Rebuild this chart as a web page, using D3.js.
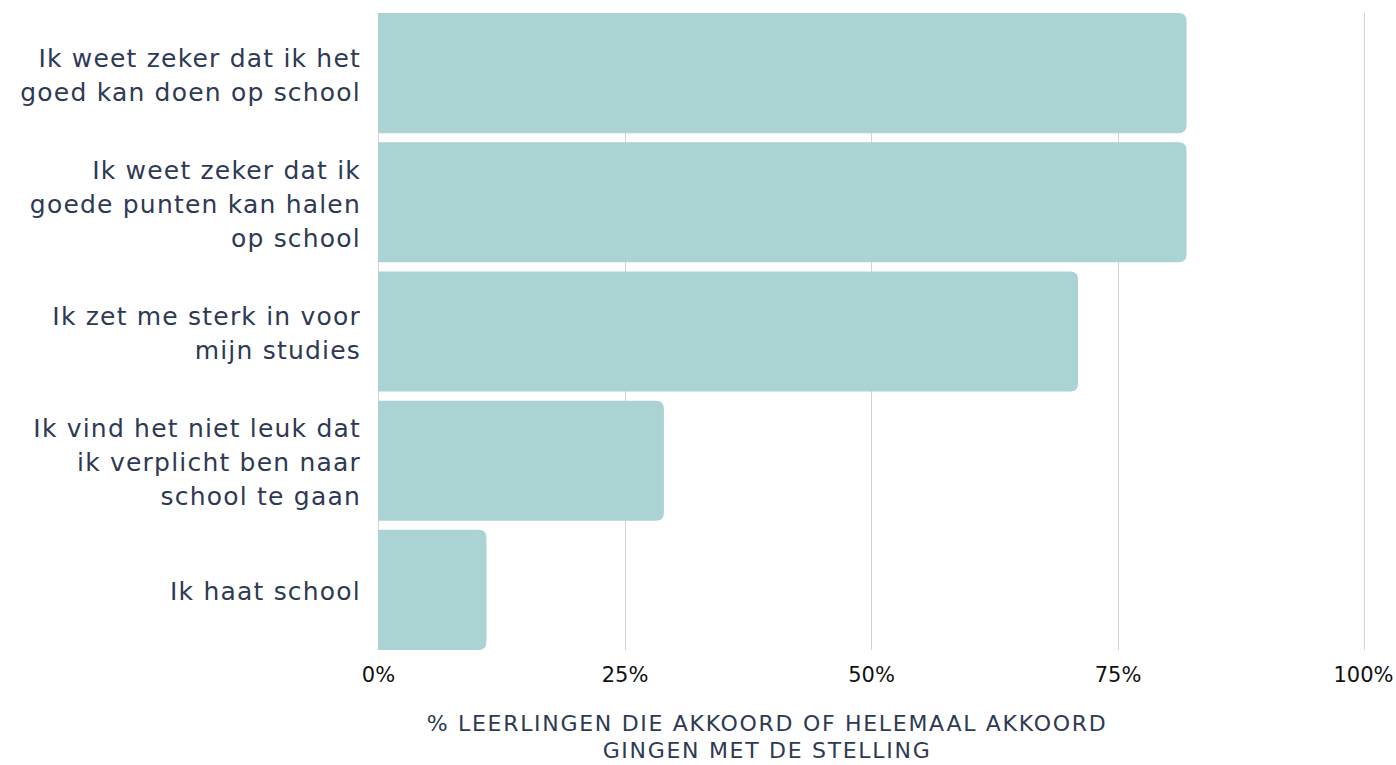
<!DOCTYPE html>
<html>
<head>
<meta charset="utf-8">
<script src="https://cdn.jsdelivr.net/npm/d3@7"></script>
<style>
  html, body { margin: 0; background: #fff; overflow: hidden; }
  svg { display: block; }
</style>
</head>
<body>
<svg class="chart"></svg>
<script>
// statements (one label per bar, lines split as in the original)
const statements = [
  ["Ik weet zeker dat ik het", "goed kan doen op school"],
  ["Ik weet zeker dat ik", "goede punten kan halen", "op school"],
  ["Ik zet me sterk in voor", "mijn studies"],
  ["Ik vind het niet leuk dat", "ik verplicht ben naar", "school te gaan"],
  ["Ik haat school"]
];
const agreePct = [82, 82, 71, 29, 11];
const xTicks = [0, 25, 50, 75, 100];
const axisTitle = ["% LEERLINGEN DIE AKKOORD OF HELEMAAL AKKOORD", "GINGEN MET DE STELLING"];

const width = 1396;
const height = 765;
const margin = { top: 13, right: 32, bottom: 115, left: 378 };
const innerWidth = width - margin.left - margin.right;
const innerHeight = height - margin.top - margin.bottom;
const font = "DejaVu Sans, sans-serif";
const textColor = "#2e3a54";

const data = statements.map((lines, i) => ({ id: i, lines, value: agreePct[i] }));

const svg = d3.select(".chart").attr("width", width).attr("height", height);
const inner = svg.append("g").attr("transform", `translate(${margin.left}, ${margin.top})`);

const xScale = d3.scaleLinear().domain([0, 100]).range([0, innerWidth]);
const yScale = d3.scaleBand().domain(data.map(d => d.id)).range([0, innerHeight]).paddingInner(0.07).paddingOuter(0);

// gridlines
inner.selectAll(".grid").data(xTicks)
  .join("line").attr("class", "grid")
  .attr("x1", d => Math.round(xScale(d)) + 0.5)
  .attr("x2", d => Math.round(xScale(d)) + 0.5)
  .attr("y1", 0)
  .attr("y2", innerHeight)
  .attr("stroke", "#d4d4d4")
  .attr("stroke-width", 1);

// bars, rounded on the right end only
const r = 8;
inner.selectAll(".bar").data(data)
  .join("path").attr("class", "bar")
  .attr("d", d => {
    const x0 = 0, x1 = xScale(d.value);
    const y0 = yScale(d.id), y1 = y0 + yScale.bandwidth();
    return `M${x0},${y0}H${x1 - r}Q${x1},${y0} ${x1},${y0 + r}V${y1 - r}Q${x1},${y1} ${x1 - r},${y1}H${x0}Z`;
  })
  .attr("fill", "#acd3d3");

// category labels, one text per line
// (letter-spacing widens the fallback font toward the original)
const lineH = 34;
const labelLines = data.flatMap(d => d.lines.map((line, k) => ({
  text: line,
  y: yScale(d.id) + yScale.bandwidth() / 2 + (k - (d.lines.length - 1) / 2) * lineH
})));
inner.selectAll(".label").data(labelLines)
  .join("text").attr("class", "label")
  .attr("text-anchor", "end")
  .attr("x", -17)
  .attr("y", d => d.y)
  .attr("dy", "0.42em")
  .style("font-family", font)
  .style("font-size", "25px")
  .style("letter-spacing", "1.2px")
  .attr("fill", textColor)
  .text(d => d.text);

// x axis
const xAxis = d3.axisBottom(xScale).tickValues(xTicks).tickFormat(d => d + "%").tickSize(0).tickPadding(17);
const gx = inner.append("g").attr("class", "x-axis")
  .attr("transform", `translate(0, ${innerHeight})`)
  .call(xAxis);
gx.select(".domain").remove();
gx.selectAll("text")
  .style("font-family", font)
  .style("font-size", "21px")
  .attr("fill", "#111");
gx.selectAll(".tick").filter(d => d === 100).select("text").attr("text-anchor", "end").attr("x", 29);

// axis title
svg.selectAll(".x-title").data(axisTitle)
  .join("text").attr("class", "x-title")
  .attr("text-anchor", "middle")
  .attr("x", 767)
  .attr("y", (d, i) => 731 + i * 27)
  .style("font-family", font)
  .style("font-size", "22px")
  .style("letter-spacing", "1.7px")
  .attr("fill", textColor)
  .text(d => d);
</script>
</body>
</html>
